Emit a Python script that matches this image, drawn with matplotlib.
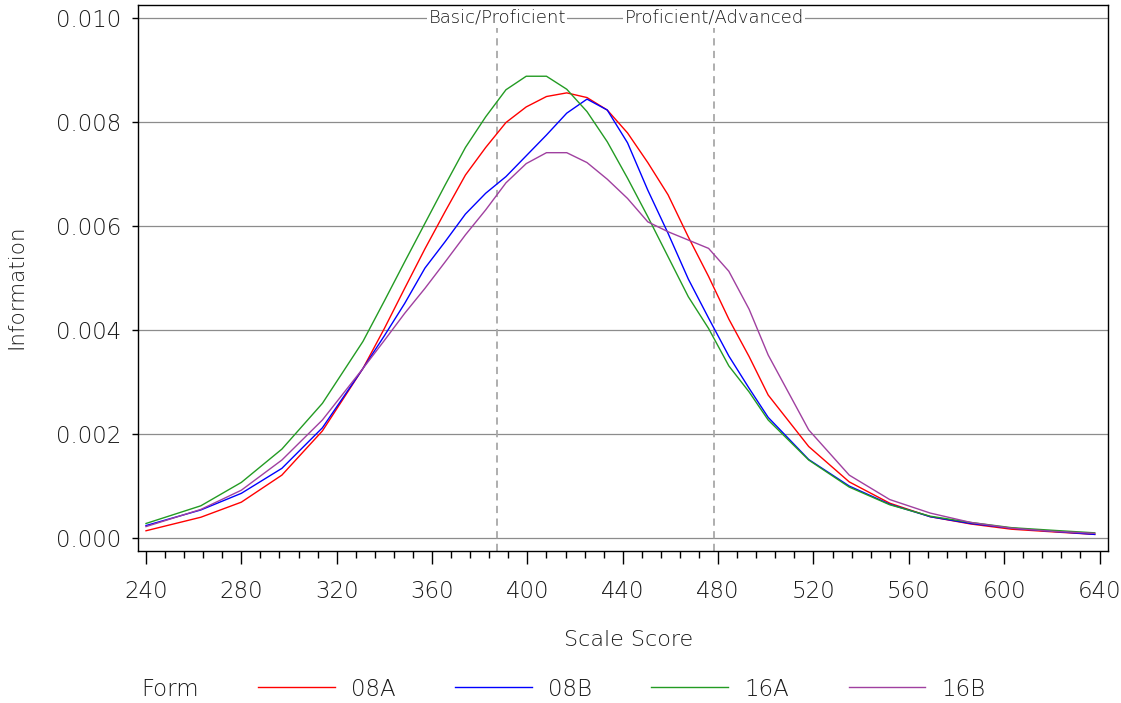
import numpy as np
import matplotlib
matplotlib.use("Agg")
from matplotlib import pyplot as plt

# scale score grid
scale_score = [240, 263, 280, 297, 314, 331, 340, 348.5, 357, 365.5, 374, 382.5, 391,
               399.5, 408, 416.5, 425, 433.5, 442, 450.5, 459, 467.5, 476, 484.5, 493,
               501, 518, 535, 552, 569, 586, 603, 620, 638]

info_08A = [0.00014, 0.00040, 0.00069, 0.00121, 0.00206, 0.00326, 0.00403, 0.00480,
            0.00556, 0.00628, 0.00698, 0.00751, 0.00799, 0.00829, 0.00849, 0.00856,
            0.00847, 0.00823, 0.00779, 0.00722, 0.00660, 0.00579, 0.00503, 0.00421,
            0.00349, 0.00275, 0.00176, 0.00108, 0.00067, 0.00041, 0.00027, 0.00017,
            0.00012, 0.00007]
info_08B = [0.00024, 0.00054, 0.00086, 0.00134, 0.00212, 0.00326, 0.00389, 0.00451,
            0.00519, 0.00570, 0.00623, 0.00663, 0.00695, 0.00735, 0.00775, 0.00817,
            0.00844, 0.00823, 0.00760, 0.00669, 0.00586, 0.00498, 0.00423, 0.00350,
            0.00288, 0.00232, 0.00151, 0.00100, 0.00065, 0.00041, 0.00028, 0.00019,
            0.00013, 0.00007]
info_16A = [0.00028, 0.00062, 0.00107, 0.00171, 0.00259, 0.00378, 0.00456, 0.00531,
            0.00605, 0.00679, 0.00751, 0.00810, 0.00862, 0.00888, 0.00888, 0.00863,
            0.00820, 0.00762, 0.00692, 0.00618, 0.00541, 0.00464, 0.00403, 0.00331,
            0.00281, 0.00227, 0.00150, 0.00098, 0.00064, 0.00042, 0.00030, 0.00020,
            0.00015, 0.00010]
info_16B = [0.00022, 0.00055, 0.00092, 0.00150, 0.00227, 0.00326, 0.00380, 0.00432,
            0.00480, 0.00531, 0.00583, 0.00631, 0.00683, 0.00720, 0.00741, 0.00741,
            0.00722, 0.00690, 0.00653, 0.00608, 0.00589, 0.00573, 0.00557, 0.00513,
            0.00440, 0.00352, 0.00208, 0.00121, 0.00074, 0.00048, 0.00030, 0.00019,
            0.00013, 0.00009]

forms = ["08A", "08B", "16A", "16B"]
colors = ["#ff0000", "#0000ff", "#239b23", "#a040a0"]

cut_scores = [387.3, 478.3]
cut_labels = ["Basic/Proficient", "Proficient/Advanced"]

plt.rcParams['font.family'] = ['DejaVu Sans']
plt.rcParams['font.weight'] = 'light'
fs = 16.5
tc = "#1a1a1a"

fig = plt.figure(figsize=(11.21, 7.03), dpi=100)
ax = fig.add_axes([0.1228, 0.2166, 0.8659, 0.7763])

ylo = -0.000244
for c in cut_scores:
    ax.vlines(c, ylo, 0.0098, colors="#a8a8a8", linestyles=(0, (4, 3)), lw=1.3, zorder=1)
for c, lab in zip(cut_scores, cut_labels):
    ax.text(c, 0.010, lab, ha="center", va="center", fontsize=13, color=tc,
            bbox=dict(facecolor="white", edgecolor="none", pad=1), zorder=3)

for ys, f, col in zip([info_08A, info_08B, info_16A, info_16B], forms, colors):
    ax.plot(scale_score, ys, color=col, lw=1.0, label=f, zorder=2)

ax.set_xlim(236.5, 643.7)
ax.set_ylim(ylo, 0.01025)
ax.set_xticks(np.arange(240, 641, 40))
ax.set_xticks(np.arange(240, 641, 8), minor=True)
ax.set_yticks(np.arange(0, 0.0101, 0.002))
ax.yaxis.set_major_formatter(matplotlib.ticker.FormatStrFormatter("%.3f"))
ax.yaxis.grid(True, color="#8c8c8c", lw=0.9)
ax.set_axisbelow(True)
ax.tick_params(axis="x", which="major", length=9, width=1, pad=12, labelsize=fs, labelcolor=tc)
ax.tick_params(axis="x", which="minor", length=5, width=1)
ax.tick_params(axis="y", which="major", length=4.5, width=1, pad=7, labelsize=fs, labelcolor=tc)
for s in ax.spines.values():
    s.set_linewidth(1.0)

fig.text(16 / 1121, 1 - 287 / 703, "Information", rotation=90, ha="center", va="center",
         fontsize=15.5, color=tc)
fig.text(629 / 1121, 1 - 640 / 703, "Scale Score", ha="center", va="center", fontsize=16, color=tc)
fig.text(141 / 1121, 1 - 690 / 703, "Form", ha="left", va="center", fontsize=fs, color=tc)

leg = fig.legend(loc="center left", bbox_to_anchor=(258 / 1121, 1 - 689 / 703), ncol=4,
                 frameon=False, fontsize=fs, handlelength=3.35, handletextpad=0.7,
                 columnspacing=2.6, borderpad=0, borderaxespad=0)
for t in leg.get_texts():
    t.set_color(tc)

fig.savefig("out.png", dpi=100)
